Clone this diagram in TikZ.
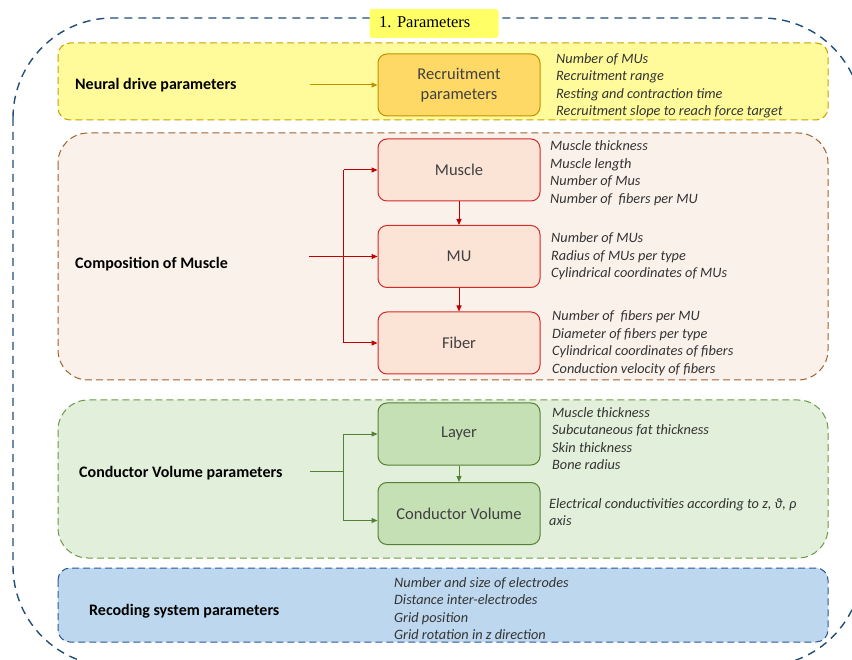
\documentclass[tikz,border=0pt]{standalone}
\usepackage{fontspec}
\setmainfont{Carlito}
\newfontfamily\titlefont{Liberation Serif}
\usetikzlibrary{arrows.meta,calc}
\definecolor{outerblue}{HTML}{1F4E79}
\definecolor{titlefill}{HTML}{FFFF66}
\definecolor{ypanel}{HTML}{FFFB9A}
\definecolor{yborder}{HTML}{C9A000}
\definecolor{ybox}{HTML}{FFD966}
\definecolor{yboxb}{HTML}{BF9000}
\definecolor{bpanel}{HTML}{FBF1EB}
\definecolor{bborder}{HTML}{A0622D}
\definecolor{rbox}{HTML}{FBE4D5}
\definecolor{rboxb}{HTML}{D42A2A}
\definecolor{rarrow}{HTML}{C00000}
\definecolor{gpanel}{HTML}{E2EFDA}
\definecolor{gborder}{HTML}{6A9A45}
\definecolor{gbox}{HTML}{C5E0B4}
\definecolor{gboxb}{HTML}{548235}
\definecolor{lpanel}{HTML}{BDD7EE}
\definecolor{lborder}{HTML}{2F5597}
\definecolor{boxtext}{HTML}{404040}
\definecolor{infotext}{HTML}{333333}
\tikzset{
  panel/.style={rounded corners=#1, line width=1pt, dash pattern=on 7pt off 4pt},
  stepbox/.style={rounded corners=9pt, line width=1pt, minimum width=162pt, minimum height=62pt,
    inner sep=0pt, align=center, text=boxtext, font=\fontsize{16.5}{19.5}\selectfont},
  info/.style={anchor=base west, inner sep=0pt, align=left, text=infotext,
    font=\fontsize{14.3}{17.5}\selectfont\itshape},
  label/.style={anchor=west, inner sep=0pt, text=black, font=\fontsize{16}{19}\selectfont\bfseries},
  arr/.style={line width=1pt, -{Triangle[length=6pt,width=5pt]}},
  ln/.style={line width=1pt}
}
\begin{document}
\begin{tikzpicture}[x=1pt,y=-1pt]
\useasboundingbox (0,0) rectangle (852,660);
\clip (0,0) rectangle (852,660);
\fill[white] (0,0) rectangle (852,660);
% outer
\draw[outerblue, line width=1.4pt, dash pattern=on 8pt off 6pt, rounded corners=100pt] (13,18) rectangle (862,666);
% title
\node[fill=titlefill, rounded corners=3pt, minimum width=129pt, minimum height=29pt, inner sep=0pt] (title) at (434,23.5) {};
\node[anchor=west, inner sep=0pt, font=\titlefont\fontsize{16.5}{19}\selectfont] (titletext) at (379,22.5) {1. Parameters};
% panels
\draw[panel=12pt, yborder, fill=ypanel] (58,43) rectangle (828,120);
\draw[panel=30pt, bborder, fill=bpanel] (58,133) rectangle (828,380);
\draw[panel=30pt, gborder, fill=gpanel] (58,400) rectangle (828,558);
\draw[panel=12pt, lborder, fill=lpanel] (58,568) rectangle (828,642);
% neural
\node[label] (neural) at (75,85) {Neural drive parameters};
\node[stepbox, draw=yboxb, fill=ybox] (recr) at (459,85) {Recruitment\\parameters};
\coordinate (nstart) at (310,85);
\draw[arr, yboxb] (nstart) -- (recr.west);
\node[info] (recrinfo) at (556,116) {Number of MUs\\Recruitment range\\Resting and contraction time\\Recruitment slope to reach force target};
% muscle composition
\node[label] (comp) at (75,264) {Composition of Muscle};
\node[stepbox, draw=rboxb, fill=rbox] (muscle) at (459,170) {Muscle};
\node[stepbox, draw=rboxb, fill=rbox] (mu) at (459,256.5) {MU};
\node[stepbox, draw=rboxb, fill=rbox] (fiber) at (459,343) {Fiber};
\coordinate (cstart) at (309,256.5);
\coordinate (csplit) at (343.5,256.5);
\draw[arr, rarrow] (cstart) -- (mu.west);
\draw[arr, rarrow] (muscle.west -| csplit) -- (muscle.west);
\draw[arr, rarrow] (muscle.west -| csplit) |- (fiber.west);
\draw[arr, rarrow] (muscle.south) -- (mu.north);
\draw[arr, rarrow] (mu.south) -- (fiber.north);
\node[info] (muscleinfo) at (550,203.5) {Muscle thickness\\Muscle length\\Number of Mus\\Number of\ \ fibers per MU};
\node[info] (muinfo) at (551,278) {Number of MUs\\Radius of MUs per type\\Cylindrical coordinates of MUs};
\node[info] (fiberinfo) at (552,373.5) {Number of\ \ fibers per MU\\Diameter of fibers per type\\Cylindrical coordinates of fibers\\Conduction velocity of fibers};
% conductor volume
\node[label] (cvlabel) at (79,473) {Conductor Volume parameters};
\node[stepbox, draw=gboxb, fill=gbox] (layer) at (459,434) {Layer};
\node[stepbox, draw=gboxb, fill=gbox] (cv) at (459,513.5) {Conductor Volume};
\coordinate (gstart) at (310,471);
\coordinate (gsplit) at (343.5,471);
\draw[ln, gboxb] (gstart) -- (gsplit);
\draw[arr, gboxb] (layer.west -| gsplit) -- (layer.west);
\draw[arr, gboxb] (layer.west -| gsplit) |- ($(cv.west)+(0,7)$);
\draw[arr, gboxb] (layer.south) -- (cv.north);
\node[info] (layerinfo) at (552,469.5) {Muscle thickness\\Subcutaneous fat thickness\\Skin thickness\\Bone radius};
\node[info] (cvinfo) at (549,525.5) {Electrical conductivities according to z, ϑ, ρ\\axis};
% recording
\node[label] (reclabel) at (89,611) {Recoding system parameters};
\node[info] (recinfo) at (394,639.5) {Number and size of electrodes\\Distance inter-electrodes\\Grid position\\Grid rotation in z direction};
\end{tikzpicture}
\end{document}
